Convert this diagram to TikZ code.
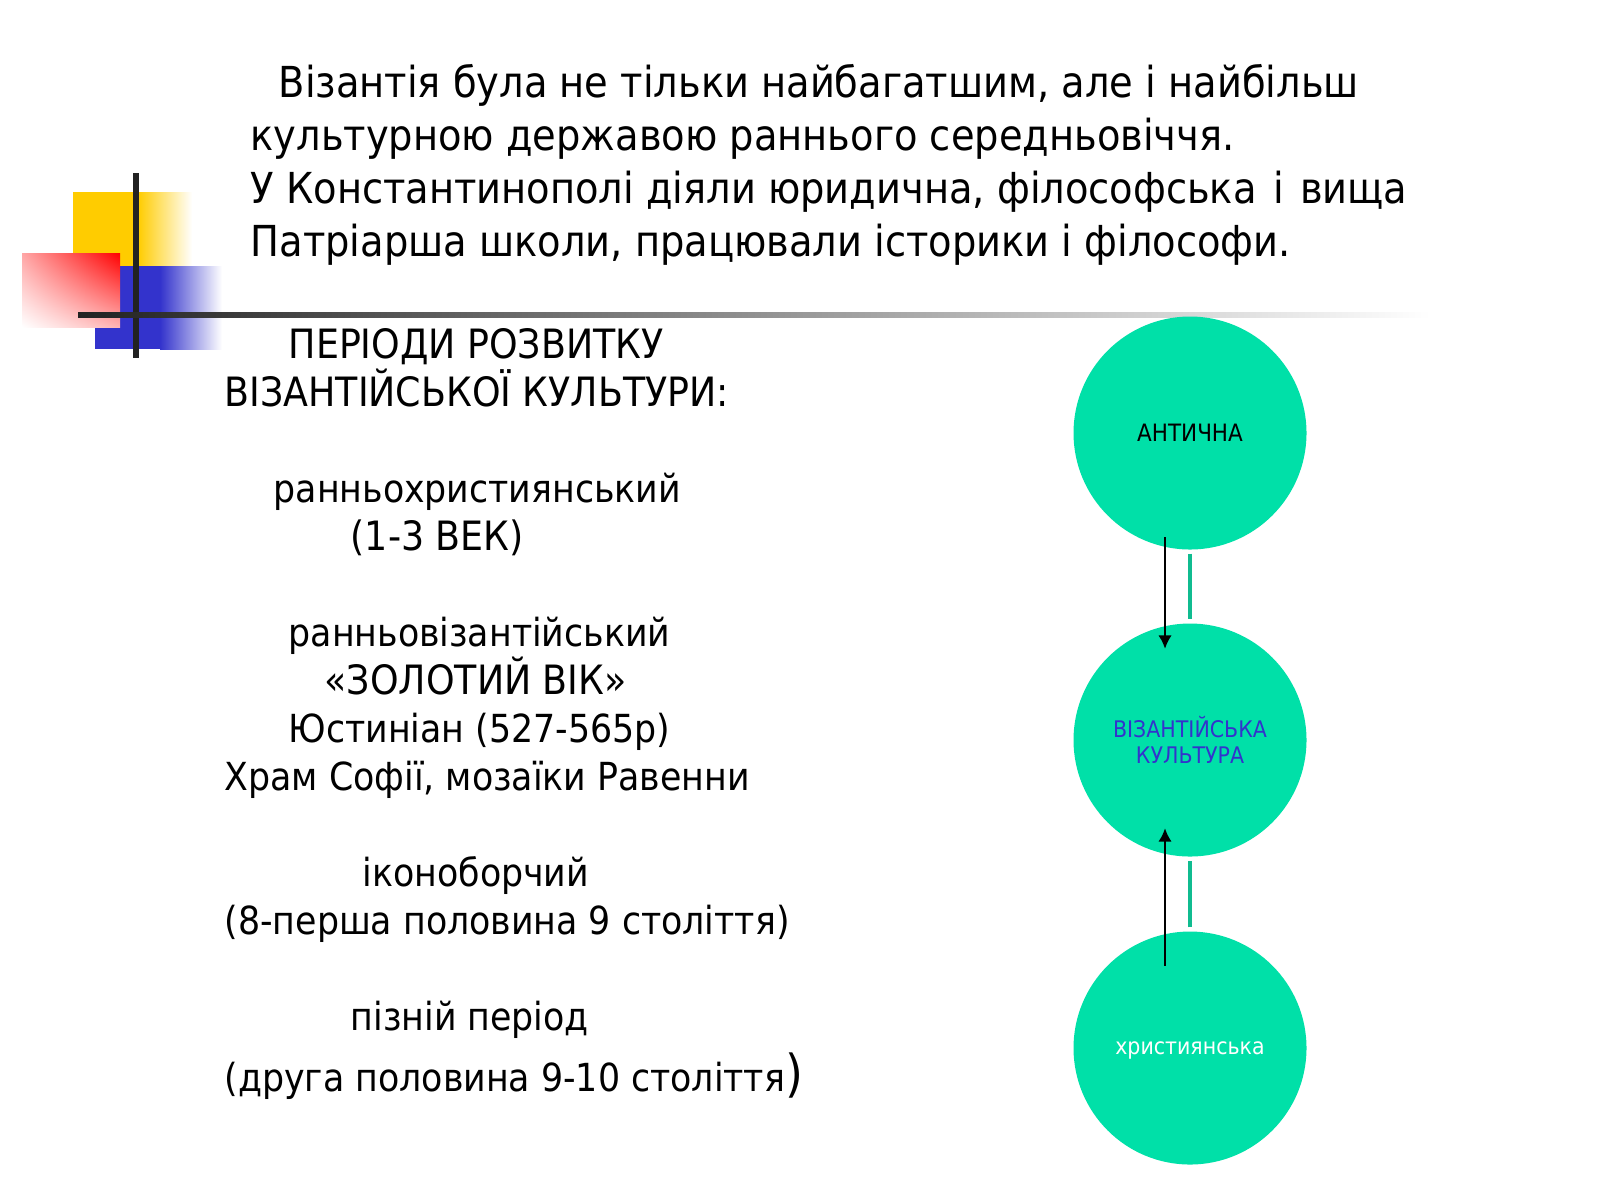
\documentclass[tikz,border=0pt]{standalone}
\usepackage{fontspec}
\usetikzlibrary{shadings,arrows.meta}
\setmainfont{DejaVu Sans Condensed}
\definecolor{mint}{HTML}{00E0A8}
\definecolor{minta}{HTML}{10BC90}
\definecolor{barblack}{HTML}{222222}
\definecolor{sunny}{HTML}{FFCC00}
\definecolor{royal}{HTML}{3333CC}
\tikzset{
  slidetitle/.style={anchor=base west,inner sep=0pt,font=\fontsize{12.15}{15}\selectfont},
  slidetext/.style={anchor=base west,inner sep=0pt,font=\fontsize{11}{14}\selectfont},
  slidecaps/.style={slidetext,font=\fontsize{11.5}{14}\selectfont},
  culture/.style={circle,fill=mint,minimum size=2.33cm,inner sep=0pt,align=center,font=\fontsize{6.5}{7.6}\selectfont},
  link/.style={minta,line width=1.1pt,shorten <=1pt,shorten >=1pt},
  feed/.style={semithick,-{Latex[length=3.8pt,width=3.8pt]}},
}
\begin{document}
\begin{tikzpicture}
\useasboundingbox (0,0) rectangle (16,-12);
% corner squares
  \fill[sunny] (0.73,-1.92) rectangle (1.38,-2.66);
  \shade[left color=sunny,right color=white] (1.38,-1.92) rectangle (1.92,-2.66);
  \fill[royal] (0.95,-2.66) rectangle (1.60,-3.49);
  \shade[left color=royal,right color=white] (1.60,-2.66) rectangle (2.22,-3.49);
  \shade[shading=bilinear interpolation,upper right=red,upper left=red!35,lower right=red!30,lower left=white] (0.22,-2.53) rectangle (1.20,-3.27);
  \fill[barblack] (1.33,-1.73) rectangle (1.39,-3.58);
  \shade[left color=barblack,right color=white] (0.78,-3.12) rectangle (14.3,-3.17);
% title
  \node[slidetitle] (titlea) at (2.78,-0.97) {Візантія була не тільки найбагатшим, але і найбільш};
  \node[slidetitle] (titleb) at (2.50,-1.50) {культурною державою раннього середньовіччя.};
  \node[slidetitle] (titlec) at (2.50,-2.03) {У Константинополі діяли юридична, філософська\hspace{1.2pt} і\hspace{1.2pt} вища};
  \node[slidetitle] (titled) at (2.50,-2.56) {Патріарша школи, працювали історики і філософи.};
% periods
  \foreach \name/\x/\y/\line in {
    pc/2.73/5.02/{ранньохристиянський},
    pe/2.88/6.46/{ранньовізантійський},
    pg/2.88/7.42/{Юстиніан (527-565р)},
    ph/2.24/7.90/{Храм Софії, мозаїки Равенни},
    pi/3.62/8.86/{іконоборчий},
    pj/2.24/9.34/{(8-перша половина 9 століття)},
    pk/3.50/10.30/{пізній період}}
    \node[slidetext] (\name) at (\x,-\y) {\line};
  \foreach \name/\x/\y/\line in {
    pa/2.88/3.58/{ПЕРІОДИ РОЗВИТКУ},
    pb/2.24/4.06/{ВІЗАНТІЙСЬКОЇ КУЛЬТУРИ:},
    pd/3.50/5.50/{(1-3 ВЕК)},
    pf/3.24/6.94/{«ЗОЛОТИЙ ВІК»}}
    \node[slidecaps] (\name) at (\x,-\y) {\line};
  \node[slidetext] (pl) at (2.24,-10.91) {(друга половина 9-10 століття\fontsize{14.5}{16}\selectfont)};
% circles
  \node[culture,font=\fontsize{6.8}{7.6}\selectfont] (antique) at (11.90,-4.33) {АНТИЧНА};
  \node[culture,text=royal] (byzant) at (11.90,-7.40) {ВІЗАНТІЙСЬКА\\КУЛЬТУРА};
  \node[culture,text=white,text depth=0pt] (christ) at (11.90,-10.48) {християнська};
  \draw[link] (antique) -- (byzant);
  \draw[link] (christ) -- (byzant);
  \draw[feed] ([xshift=-0.25cm,yshift=0.13cm]antique.south) -- ([xshift=-0.25cm,yshift=-0.26cm]byzant.north);
  \draw[feed] ([xshift=-0.25cm,yshift=-0.35cm]christ.north) -- ([xshift=-0.25cm,yshift=0.29cm]byzant.south);
\end{tikzpicture}
\end{document}
